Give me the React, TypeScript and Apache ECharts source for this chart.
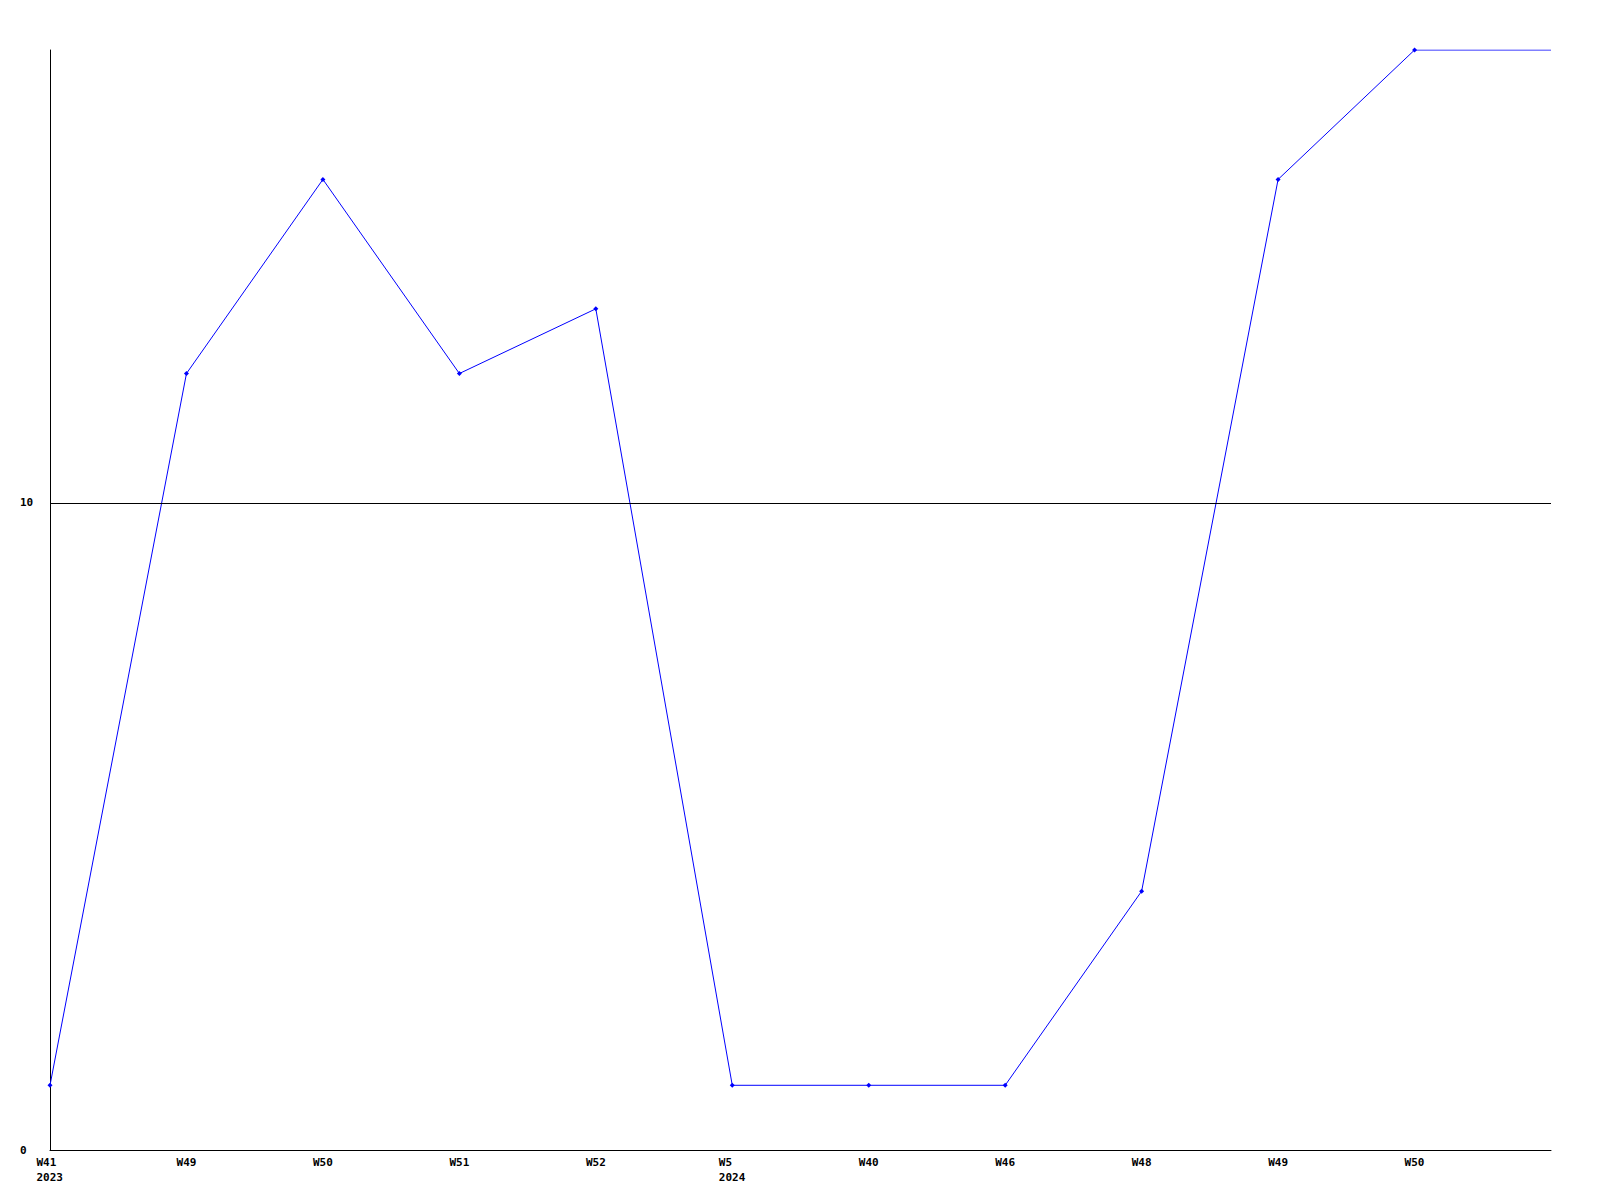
import React, { useEffect, useRef } from "react";
import * as echarts from "echarts";

const weeks = ["W41", "W49", "W50", "W51", "W52", "W5", "W40", "W46", "W48", "W49", "W50", ""];
const years = ["2023", "", "", "", "", "2024", "", "", "", "", "", ""];
const values = [1, 12, 15, 12, 13, 1, 1, 1, 4, 15, 17, 17];
const yMin = 0;
const yMax = 17;
const yInterval = 10;
const refLine = 10;

export default function App() {
  const ref = useRef<HTMLDivElement>(null);
  useEffect(() => {
    document.body.style.margin = "0";
    const chart = echarts.init(ref.current!, undefined, { renderer: "svg" });
    const font = "DejaVu Sans Mono";
    const categories = weeks.map((_, i) => String(i));
    chart.setOption({
      animation: false,
      backgroundColor: "#ffffff",
      grid: { left: 50, right: 49, top: 50, bottom: 50, containLabel: false },
      xAxis: {
        type: "category",
        data: categories,
        boundaryGap: false,
        axisLine: { show: true, lineStyle: { color: "#000", width: 1 } },
        axisTick: { show: false },
        splitLine: { show: false },
        axisLabel: {
          interval: 0,
          margin: 5,
          color: "#000",
          fontFamily: font,
          fontWeight: "bold",
          fontSize: 11,
          lineHeight: 15,
          formatter: (v: string) => {
            const i = Number(v);
            if (years[i]) return `{b|${weeks[i]}}\n{b|${years[i]}}`;
            return weeks[i];
          },
          rich: {
            b: {
              width: 27,
              align: "left",
              fontFamily: font,
              fontWeight: "bold",
              fontSize: 11,
              lineHeight: 15,
              color: "#000",
            },
          },
        },
      },
      yAxis: {
        type: "value",
        min: yMin,
        max: yMax,
        interval: yInterval,
        axisLine: { show: true, lineStyle: { color: "#000", width: 1 } },
        axisTick: { show: false },
        splitLine: { show: false },
        axisLabel: {
          showMaxLabel: false,
          align: "left",
          margin: 30,
          color: "#000",
          fontFamily: font,
          fontWeight: "bold",
          fontSize: 11,
        },
      },
      series: [
        {
          type: "line",
          data: values.map((v, i) =>
            i === values.length - 1 ? { value: v, symbol: "none" } : v
          ),
          symbol: "diamond",
          symbolSize: 5,
          showAllSymbol: true,
          lineStyle: { color: "#0000ff", width: 1 },
          itemStyle: { color: "#0000ff" },
          markLine: {
            silent: true,
            symbol: ["none", "none"],
            label: { show: false },
            lineStyle: { color: "#000", width: 1, type: "solid" },
            data: [{ yAxis: refLine }],
          },
        },
      ],
    });
    return () => chart.dispose();
  }, []);
  return <div ref={ref} style={{ width: 1600, height: 1200 }} />;
}
